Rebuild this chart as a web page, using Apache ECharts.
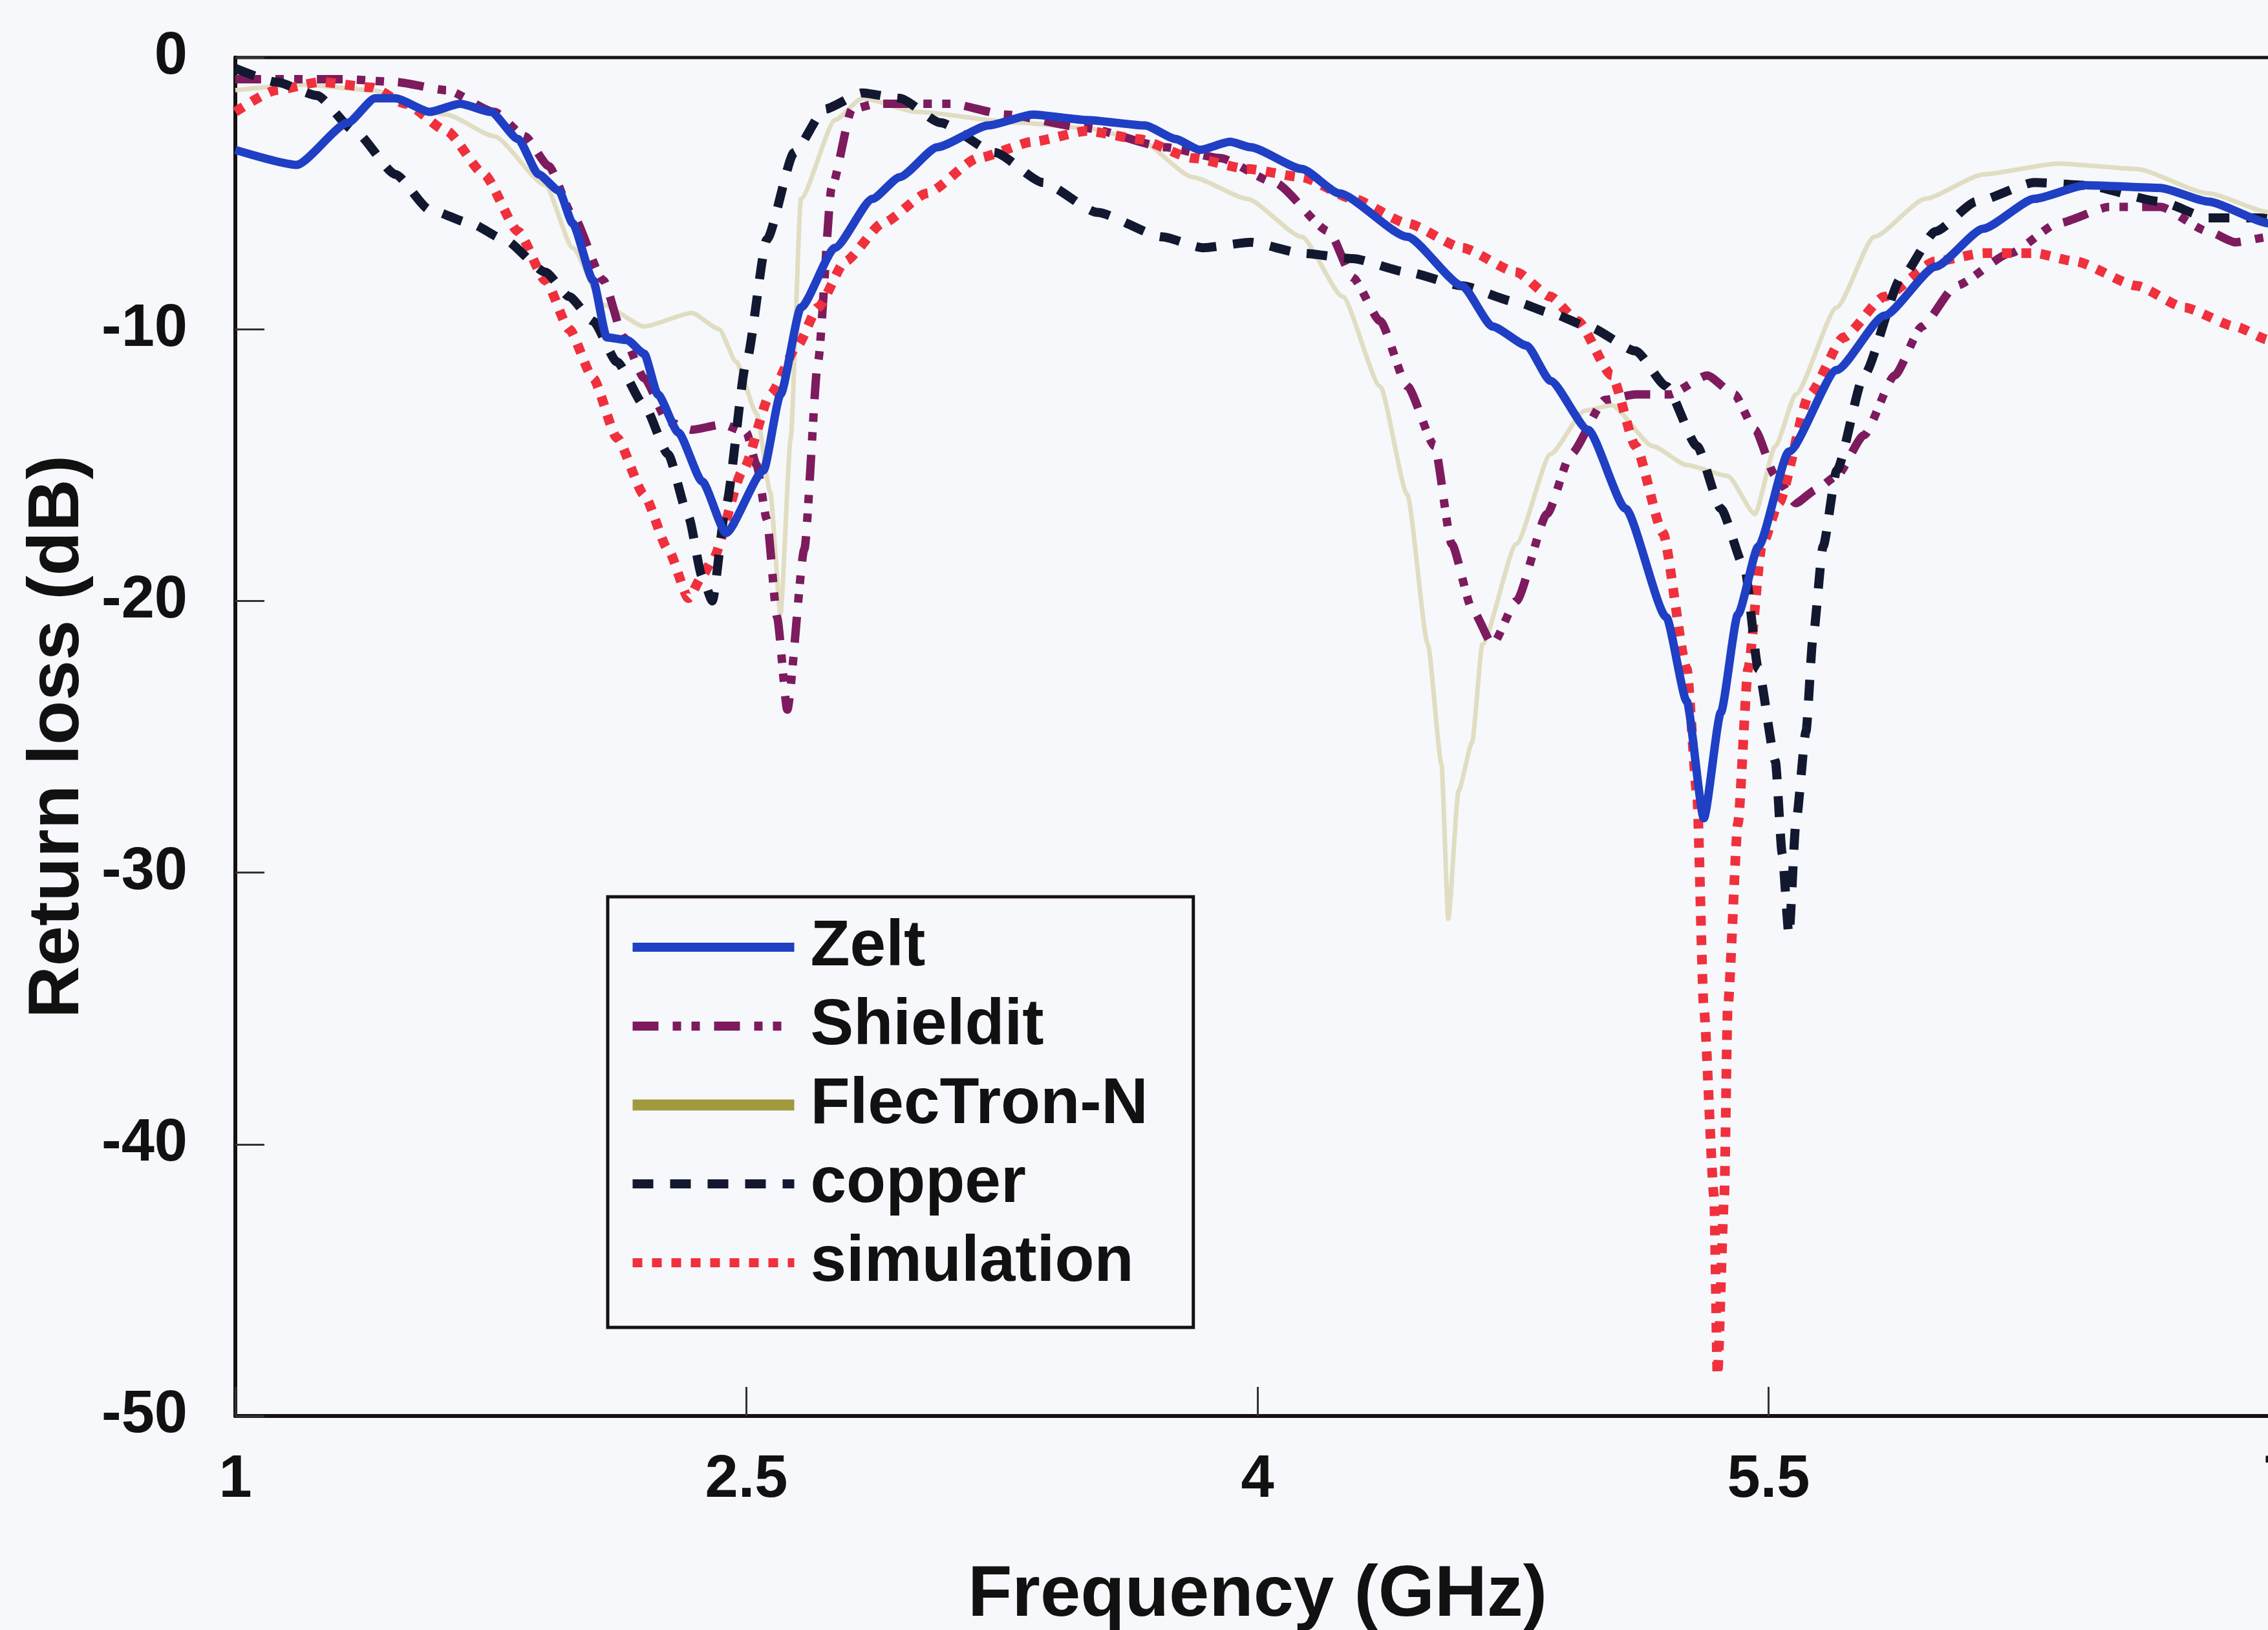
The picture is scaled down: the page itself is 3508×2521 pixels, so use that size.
<!DOCTYPE html>
<html>
<head>
<meta charset="utf-8">
<title>Return loss</title>
<script src="https://cdn.jsdelivr.net/npm/echarts@6.0.0/dist/echarts.min.js"></script>
<style>
  html, body { margin: 0; padding: 0; background: #f6f8fb; }
  #chart { width: 3508px; height: 2521px; }
</style>
</head>
<body>
<div id="chart"></div>
<script>
// axis ticks
const xTicks = [1, 2.5, 4, 5.5, 7]
const yTicks = [0, -10, -20, -30, -40, -50]

// Zelt
const zeltFreq = [1.00, 1.18, 1.33, 1.41, 1.47, 1.57, 1.66, 1.75, 1.83, 1.89, 1.95, 1.99, 2.05, 2.09, 2.15, 2.20, 2.24, 2.30, 2.37, 2.44, 2.55, 2.60, 2.66, 2.76, 2.87, 2.95, 3.06, 3.21, 3.34, 3.50, 3.67, 3.76, 3.83, 3.92, 3.98, 4.13, 4.24, 4.44, 4.60, 4.69, 4.79, 4.86, 4.97, 5.08, 5.20, 5.26, 5.31, 5.36, 5.41, 5.47, 5.56, 5.70, 5.84, 5.99, 6.13, 6.28, 6.43, 6.65, 6.79, 6.97, 7.00]
const zeltLoss = [-3.4, -3.95, -2.4, -1.5, -1.5, -2.0, -1.7, -2.0, -3.0, -4.3, -4.9, -6.1, -8.2, -10.3, -10.4, -10.9, -12.4, -13.8, -15.6, -17.5, -15.2, -12.4, -9.2, -7.0, -5.2, -4.4, -3.3, -2.5, -2.1, -2.3, -2.5, -3.0, -3.4, -3.1, -3.3, -4.1, -5.0, -6.6, -8.4, -9.9, -10.6, -11.9, -13.7, -16.6, -20.6, -23.7, -28.0, -24.1, -20.5, -18.0, -14.5, -11.5, -9.5, -7.7, -6.3, -5.2, -4.7, -4.8, -5.3, -6.1, -6.2]

// Shieldit
const shieldFreq = [1.00, 1.33, 1.47, 1.62, 1.76, 1.85, 1.92, 1.99, 2.08, 2.14, 2.20, 2.27, 2.34, 2.43, 2.50, 2.53, 2.56, 2.59, 2.62, 2.67, 2.71, 2.75, 2.81, 2.88, 3.10, 3.26, 3.50, 3.73, 3.89, 4.05, 4.21, 4.28, 4.36, 4.44, 4.52, 4.57, 4.63, 4.69, 4.76, 4.85, 4.92, 5.02, 5.11, 5.21, 5.32, 5.40, 5.46, 5.52, 5.58, 5.64, 5.70, 5.78, 5.87, 5.95, 6.05, 6.21, 6.35, 6.50, 6.65, 6.79, 6.87, 6.97, 7.00]
const shieldLoss = [-0.8, -0.8, -0.9, -1.2, -2.0, -2.9, -4.0, -5.8, -8.2, -10.3, -11.8, -13.4, -13.7, -13.5, -13.8, -15.0, -17.0, -20.6, -24.0, -18.1, -11.2, -4.8, -1.9, -1.7, -1.7, -2.1, -2.6, -3.3, -3.7, -4.6, -6.4, -8.1, -9.7, -12.1, -14.3, -17.9, -20.3, -21.6, -20.0, -16.8, -14.6, -12.6, -12.4, -12.4, -11.7, -12.4, -13.7, -15.4, -16.4, -15.9, -15.4, -13.9, -11.7, -9.9, -8.4, -7.2, -6.1, -5.5, -5.5, -6.4, -6.8, -6.6, -6.6]

// FlecTron-N
const flecFreq = [1.00, 1.20, 1.40, 1.62, 1.76, 1.91, 1.99, 2.08, 2.20, 2.34, 2.42, 2.47, 2.53, 2.57, 2.60, 2.63, 2.66, 2.76, 2.84, 3.00, 3.30, 3.50, 3.65, 3.81, 3.97, 4.13, 4.25, 4.36, 4.44, 4.50, 4.54, 4.56, 4.59, 4.63, 4.66, 4.76, 4.86, 4.96, 5.04, 5.16, 5.26, 5.38, 5.46, 5.52, 5.58, 5.70, 5.81, 5.96, 6.13, 6.35, 6.58, 6.79, 6.97, 7.00]
const flecLoss = [-1.2, -1.0, -1.2, -2.1, -2.9, -4.7, -7.0, -9.1, -9.9, -9.4, -10.0, -11.2, -13.1, -16.0, -20.5, -14.0, -5.2, -2.3, -1.5, -2.0, -2.4, -2.6, -3.0, -4.4, -5.2, -6.6, -8.8, -12.1, -16.1, -21.6, -26.0, -31.7, -27.0, -25.2, -21.6, -17.9, -14.6, -13.0, -12.8, -14.3, -15.0, -15.4, -16.8, -14.3, -12.4, -9.2, -6.6, -5.2, -4.3, -3.9, -4.1, -5.0, -5.7, -5.8]

// copper
const copperFreq = [1.00, 1.12, 1.24, 1.35, 1.47, 1.57, 1.69, 1.79, 1.91, 1.98, 2.05, 2.12, 2.20, 2.27, 2.33, 2.37, 2.40, 2.44, 2.50, 2.56, 2.64, 2.73, 2.84, 2.95, 3.07, 3.23, 3.37, 3.53, 3.72, 3.84, 3.98, 4.13, 4.28, 4.44, 4.60, 4.76, 4.86, 4.97, 5.11, 5.20, 5.29, 5.36, 5.43, 5.47, 5.52, 5.54, 5.56, 5.58, 5.61, 5.63, 5.66, 5.70, 5.78, 5.89, 5.99, 6.11, 6.28, 6.43, 6.65, 6.79, 6.94, 7.00]
const copperLoss = [-0.4, -0.9, -1.4, -2.7, -4.3, -5.6, -6.1, -6.7, -7.9, -8.8, -9.7, -11.2, -12.8, -14.6, -16.9, -19.1, -20.0, -16.5, -11.2, -6.7, -3.5, -1.9, -1.3, -1.5, -2.4, -3.5, -4.6, -5.7, -6.6, -7.0, -6.8, -7.2, -7.4, -7.9, -8.4, -9.0, -9.4, -9.9, -10.8, -12.1, -14.3, -16.6, -18.8, -22.5, -25.9, -29.3, -32.3, -28.2, -24.8, -21.4, -18.0, -15.2, -11.7, -8.1, -6.4, -5.3, -4.6, -4.7, -5.3, -5.9, -5.9, -6.0]

// simulation
const simFreq = [1.00, 1.12, 1.25, 1.40, 1.50, 1.62, 1.73, 1.83, 1.91, 1.98, 2.05, 2.12, 2.20, 2.27, 2.33, 2.37, 2.40, 2.49, 2.57, 2.65, 2.71, 2.79, 2.90, 3.03, 3.18, 3.34, 3.50, 3.65, 3.81, 3.97, 4.13, 4.28, 4.44, 4.60, 4.76, 4.86, 4.94, 5.04, 5.11, 5.19, 5.26, 5.29, 5.31, 5.34, 5.35, 5.37, 5.38, 5.41, 5.44, 5.48, 5.53, 5.62, 5.72, 5.84, 5.99, 6.13, 6.28, 6.40, 6.58, 6.72, 6.87, 6.97, 7.00]
const simLoss = [-2.0, -1.2, -0.9, -1.1, -1.7, -2.7, -4.3, -6.4, -8.2, -10.0, -11.8, -14.0, -16.1, -18.1, -19.9, -19.1, -18.5, -15.2, -12.4, -10.6, -9.2, -7.5, -6.1, -5.0, -3.7, -3.1, -2.7, -3.0, -3.7, -4.1, -4.4, -5.2, -6.1, -7.0, -7.9, -8.8, -9.7, -11.7, -14.3, -17.5, -22.5, -27.1, -35.0, -41.9, -48.5, -41.9, -35.0, -28.2, -22.5, -18.0, -16.4, -12.4, -10.3, -8.8, -7.5, -7.2, -7.2, -7.5, -8.4, -9.2, -9.9, -10.4, -10.6]

const FONT = '"Liberation Sans", Arial, sans-serif'
const INK = '#161010'

// [x, y] pairs for the value axes
const pair = (xs, ys) => xs.map((x, i) => [x, ys[i]])

const makeLine = (name, data, color, width, type, z) => ({
  name,
  type: 'line',
  data,
  z,
  symbol: 'none',
  smooth: 0.2,
  smoothMonotone: 'x',
  lineStyle: { color, width, type },
  itemStyle: { color }
})

const series = [
  makeLine('FlecTron-N', pair(flecFreq, flecLoss), '#e1ddc2', 7, 'solid', 1),
  makeLine('Shieldit', pair(shieldFreq, shieldLoss), '#7d1b5e', 13, [40, 22, 13, 16, 13, 22], 2),
  makeLine('simulation', pair(simFreq, simLoss), '#f0303c', 15, [15, 15], 3),
  makeLine('copper', pair(copperFreq, copperLoss), '#121830', 14, [32, 26], 4),
  makeLine('Zelt', pair(zeltFreq, zeltLoss), '#1f3fc4', 13, 'solid', 5)
]

const chart = echarts.init(document.getElementById('chart'))

chart.setOption({
  backgroundColor: '#f6f8fb',
  animation: false,
  grid: {
    left: 364,
    top: 89,
    width: 3162,
    height: 2101,
    show: true,
    borderColor: INK,
    borderWidth: 5,
    outerBoundsMode: 'none'
  },
  legend: {
    orient: 'vertical',
    left: 940,
    top: 1387,
    padding: [28, 70, 50, 30],
    itemGap: 22,
    itemWidth: 250,
    itemHeight: 20,
    borderColor: INK,
    borderWidth: 5,
    backgroundColor: '#f6f8fb',
    itemStyle: { opacity: 0 },
    lineStyle: { width: 14 },
    textStyle: {
      fontFamily: FONT,
      fontSize: 100,
      fontWeight: 'bold',
      color: '#111',
      padding: [0, 0, 0, 20]
    },
    data: [
      { name: 'Zelt' },
      { name: 'Shieldit' },
      { name: 'FlecTron-N', lineStyle: { color: '#a19a3c', width: 17, type: 'solid' } },
      { name: 'copper' },
      { name: 'simulation' }
    ]
  },
  xAxis: {
    type: 'value',
    min: xTicks[0],
    max: xTicks[xTicks.length - 1],
    name: 'Frequency (GHz)',
    nameLocation: 'middle',
    nameGap: 222,
    nameTextStyle: { fontFamily: FONT, fontSize: 112, fontWeight: 'bold', color: '#111' },
    axisLine: { show: true, onZero: false, lineStyle: { color: INK, width: 6 } },
    axisTick: { show: true, inside: true, length: 45, customValues: xTicks, lineStyle: { color: '#333', width: 3 } },
    axisLabel: { fontFamily: FONT, fontSize: 92, fontWeight: 'bold', color: '#111', margin: 54, customValues: xTicks },
    splitLine: { show: false }
  },
  yAxis: {
    type: 'value',
    min: yTicks[yTicks.length - 1],
    max: yTicks[0],
    interval: 10,
    name: 'Return loss (dB)',
    nameLocation: 'middle',
    nameGap: 189,
    nameTextStyle: { fontFamily: FONT, fontSize: 112, fontWeight: 'bold', color: '#111' },
    axisLine: { show: true, onZero: false, lineStyle: { color: INK, width: 6 } },
    axisTick: { show: true, inside: true, length: 45, lineStyle: { color: '#333', width: 3 } },
    axisLabel: { fontFamily: FONT, fontSize: 92, fontWeight: 'bold', color: '#111', margin: 74 },
    splitLine: { show: false }
  },
  series
})
</script>
</body>
</html>
